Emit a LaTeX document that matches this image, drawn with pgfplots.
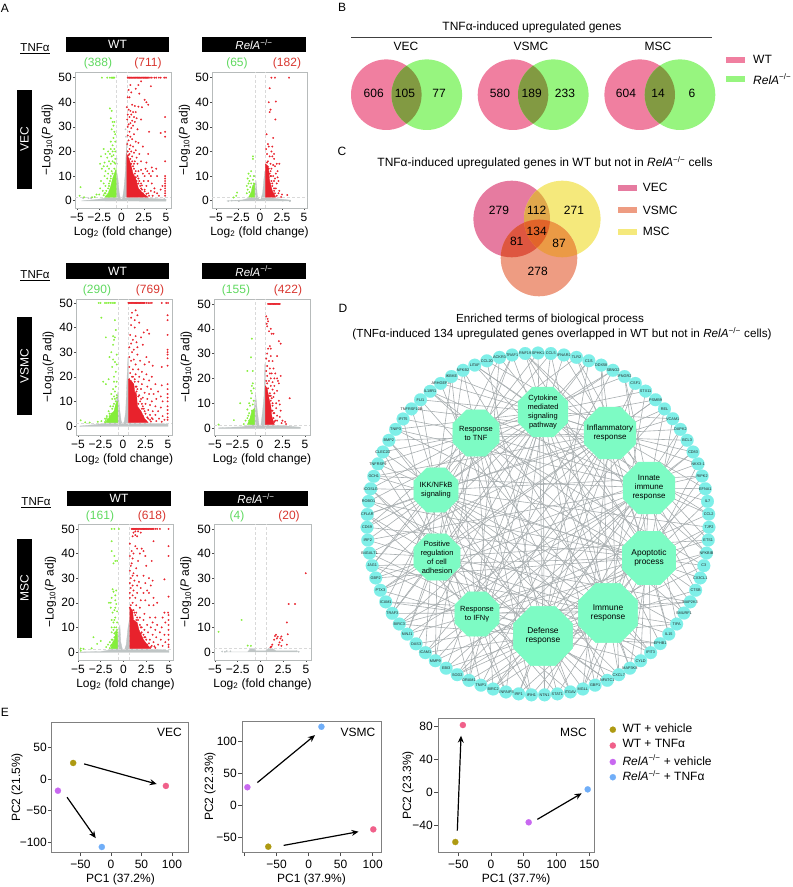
\documentclass[border=0pt]{standalone}
\usepackage{fontspec}
\setmainfont{Liberation Sans}
\usepackage{pgfplots}
\usepackage{pgfplotstable}
\pgfplotsset{compat=1.18}
\usetikzlibrary{arrows.meta}

\newcommand\fs[1]{\fontsize{#1}{#1}\selectfont}
\newcommand\rela{\textit{RelA}\textsuperscript{−/−}}

\definecolor{volred}{HTML}{E8222C}
\definecolor{volgreen}{HTML}{84EE3A}
\definecolor{volgrey}{HTML}{BFC5C5}
\definecolor{cntgreen}{HTML}{5FD95F}
\definecolor{cntred}{HTML}{D8362F}
\definecolor{vpink}{HTML}{F07FA0}
\definecolor{vgreen}{HTML}{97F57F}
\definecolor{volive}{HTML}{829A42}
\definecolor{cpink}{HTML}{E67BA0}
\definecolor{cyellow}{HTML}{F5E97C}
\definecolor{csalmon}{HTML}{EE9C82}
\definecolor{cpy}{HTML}{E0A84C}
\definecolor{cps}{HTML}{DE5640}
\definecolor{cys}{HTML}{EB9A45}
\definecolor{cmid}{HTML}{E2642A}
\definecolor{ringc}{HTML}{7EEFE8}
\definecolor{hubc}{HTML}{7DFBC4}
\definecolor{edgec}{HTML}{A8AEB0}
\definecolor{polive}{HTML}{AE9A12}
\definecolor{ppink}{HTML}{F0608A}
\definecolor{ppurple}{HTML}{C868F0}
\definecolor{pblue}{HTML}{70AEF8}

\pgfdeclareplotmark{octa}{%
  \pgfpathmoveto{\pgfpointpolar{22.5}{\pgfplotmarksize}}%
  \pgfpathlineto{\pgfpointpolar{67.5}{\pgfplotmarksize}}%
  \pgfpathlineto{\pgfpointpolar{112.5}{\pgfplotmarksize}}%
  \pgfpathlineto{\pgfpointpolar{157.5}{\pgfplotmarksize}}%
  \pgfpathlineto{\pgfpointpolar{202.5}{\pgfplotmarksize}}%
  \pgfpathlineto{\pgfpointpolar{247.5}{\pgfplotmarksize}}%
  \pgfpathlineto{\pgfpointpolar{292.5}{\pgfplotmarksize}}%
  \pgfpathlineto{\pgfpointpolar{337.5}{\pgfplotmarksize}}%
  \pgfpathclose\pgfusepathqfillstroke}

\pgfplotsset{
  volc/.style={scale only axis, height=136pt, clip=false,
    axis line style={color=volgrey!80!black!70, line width=0.9pt},
    xtick={-5,-2.5,0,2.5,5}, xticklabels={−5,−2.5,0,2.5,5},
    ytick={0,10,20,30,40,50},
    tick align=outside, major tick length=2pt, xtick pos=lower, ytick pos=left,
    tick style={color=black!70, line width=0.5pt},
    /pgf/number format/assume math mode=true,
    tick label style={font=\fs{12}, inner sep=1pt},
    xticklabel style={yshift=-2pt},
    xlabel={Log\textsubscript{2} (fold change)},
    ylabel={−Log\textsubscript{10}(\textit{P} adj)},
    every axis x label/.style={at={(axis description cs:0.5,0)},anchor=center,yshift=-24pt,font=\fs{12}},
    every axis y label/.style={at={(axis description cs:-0.29,0.5)},anchor=center,rotate=90,font=\fs{12}},
  },
  pca/.style={scale only axis, clip=false,
    axis line style={color=black!50, line width=1pt},
    tick align=outside, major tick length=4pt, xtick pos=lower, ytick pos=left,
    tick style={color=black!70, line width=0.6pt},
    /pgf/number format/assume math mode=true,
    tick label style={font=\fs{12}, inner sep=1pt},
    xticklabel style={yshift=-3pt},
    every axis x label/.style={at={(axis description cs:0.5,0)},anchor=center,yshift=-27pt,font=\fs{12}},
    every axis y label/.style={anchor=center,rotate=90,font=\fs{12}},
  },
  dots/.style 2 args={only marks, mark=*, mark size=#2pt, mark options={fill=#1, draw=#1, line width=0.15pt}},
  redpt/.style={dots={volred}{0.85}},
  grnpt/.style={dots={volgreen}{0.85}},
  grypt/.style={dots={volgrey}{0.75}},
  guide/.style={color=black!15, line width=0.35pt, densely dashed},
  area/.style={fill=#1, draw=#1, line width=0.3pt},
  pdot/.style={dots={#1}{3.1}},
  arr/.style={black, line width=1.2pt, -{Stealth[length=7pt,width=6pt]}},
  edge/.style={edgec, line width=0.6pt, data cs=polar},
}

\newcommand\spokes[3]{\pgfplotsinvokeforeach{#3}{\addplot[edge] coordinates {(#1,#2)(##1,171)};}}
% hub: x, y, mark size, font size, label
\newcommand\hub[5]{\addplot[only marks, mark=octa, mark size=#3pt, mark options={fill=hubc, draw=hubc},
  nodes near coords={#5},
  every node near coord/.style={anchor=center, align=center, inner sep=0pt, text=black, font=\fontsize{#4}{9}\selectfont}]
  coordinates {(#1,#2)};}

\pgfplotstableread{
a r g
90.0 171 SPHK1
85.7 171 CCL5
81.3 171 IFNAR2
77.0 171 TLR2
72.7 171 C1S
68.3 171 DDX58
64.0 171 SBNO2
59.6 171 IFNGR2
55.3 171 CSF1
51.0 171 STX11
46.6 171 PSMB9
42.3 171 REL
38.0 171 VCAM1
33.6 171 DAPK2
29.3 171 BCL3
24.9 171 CD83
20.6 171 NKX3-1
16.3 171 RIPK2
11.9 171 EFNA1
7.6 171 IL7
3.3 171 CCL2
-1.1 171 TJP2
-5.4 171 ETS1
-9.8 171 NFKBIB
-14.1 171 C3
-18.4 171 CX3CL1
-22.8 171 CTSB
-27.1 171 MAP2K3
-31.4 171 SMURF1
-35.8 171 TIFA
-40.1 171 IL15
-44.4 171 EPHB1
-48.8 171 IFIT3
-53.1 171 CYLD
-57.5 171 MAP3K8
-61.8 171 CXCL7
-66.1 171 NFATC1
-70.5 171 GBP1
-74.8 171 MGLL
-79.1 171 ITGAV
-83.5 171 STAT1
-87.8 171 NTN1
-92.2 171 IFIH1
-96.5 171 IRF1
-100.8 171 TNFAIP3
-105.2 171 BIRC2
-109.5 171 TNIP1
-113.8 171 DRAM1
-118.2 171 SOD2
-122.5 171 EBI3
-126.9 171 MMP9
-131.2 171 ICAM1
-135.5 171 OAS3
-139.9 171 NINJ1
-144.2 171 BIRC3
-148.5 171 TRAF3
-152.9 171 ICAM1
-157.2 171 PTX3
-161.6 171 GBP2
-165.9 171 JAG1
-170.2 171 B4GALT1
-174.6 171 IRF2
-178.9 171 CD69
176.8 171 CFLAR
172.4 171 ROBO1
168.1 171 ICOSLG
163.8 171 GCH1
159.4 171 TNFRSF9
155.1 171 CLEC2D
150.7 171 BMP2
146.4 171 TNIP3
142.1 171 IFIT5
137.7 171 TNFRSF10B
133.4 171 FLI1
129.1 171 IL18R1
124.7 171 ARHGEF3
120.4 171 IKBKE
116.0 171 NFKB2
111.7 171 LITAF
107.4 171 CCL20
103.0 171 ACKR3
98.7 171 TRAF1
94.3 171 RNF19
}\genes

\begin{document}
\begin{tikzpicture}
\path[use as bounding box] (0,0) rectangle (793pt,887pt);

% page furniture: panel letters, bars, venn diagrams (pixel coordinates, y down)
\begin{scope}[x=1pt,y=-1pt,shift={(0pt,887pt)}]
\foreach \t/\x/\y in {A/5/8, B/342/7, C/342/151, D/343/308, E/5/712}
  \node[font=\fs{12}] at (\x,\y) {\t};
\foreach \l/\a/\b/\c/\d in {WT/66/169/37/52, WT/66/169/263/279, WT/67/171/491/506}
  {\fill[black] (\a,\c) rectangle (\b,\d);
   \node[white,font=\fs{12}] at ({(\a+\b)/2},{(\c+\d)/2}) {\l};}
\foreach \a/\b/\c/\d in {202/306/37/52, 202/306/263/279, 204/308/491/506}
  {\fill[black] (\a,\c) rectangle (\b,\d);
   \node[white,font=\fs{11.5}] at ({(\a+\b)/2},{(\c+\d)/2}) {\rela};}
\foreach \l/\c/\d in {VEC/90/189, VSMC/317/415, MSC/539/638}
  {\fill[black] (17,\c) rectangle (32,\d);
   \node[white,font=\fs{12},rotate=90] at (24.5,{(\c+\d)/2}) {\l};}
\node[font=\fs{11.5}] at (35,49) {\underline{TNFα}};
\node[font=\fs{11.5}] at (35,276) {\underline{TNFα}};
\node[font=\fs{11.5}] at (36,503) {\underline{TNFα}};
\foreach \t/\x/\y in {(388)/98/63, (65)/237/63, (290)/97/290, (155)/236/290, (161)/100/516, (4)/237/516}
  \node[cntgreen,font=\fs{12}] at (\x,\y) {\t};
\foreach \t/\x/\y in {(711)/148/63, (182)/287/63, (769)/150/290, (422)/288/290, (618)/152/516, (20)/289/516}
  \node[cntred,font=\fs{12}] at (\x,\y) {\t};

% panel B
\node[font=\fs{12}] at (532,27) {TNFα-induced upregulated genes};
\draw[black!75,line width=0.7pt] (351,37) -- (712,37);
\node[font=\fs{12}] at (406,46.5) {VEC};
\node[font=\fs{12}] at (531,46.5) {VSMC};
\node[font=\fs{12}] at (658,46.5) {MSC};
\foreach \p/\q in {386.3/426.8, 513/553.3, 639.7/680}
  {\fill[vpink] (\p,94.7) circle[radius=35.3];
   \fill[vgreen] (\q,94.7) circle[radius=35.3];
   \begin{scope}\clip (\p,94.7) circle[radius=35.3];
   \fill[volive] (\q,94.7) circle[radius=35.3];\end{scope}}
\foreach \t/\x in {606/373.7, 105/405, 77/439, 580/500, 189/531.7, 233/565, 604/626, 14/658, 6/692}
  \node[font=\fs{12}] at (\x,93) {\t};
\fill[vpink] (725.7,57) rectangle (745.3,63);
\fill[vgreen] (725.7,76) rectangle (745.3,82);
\node[anchor=west,inner sep=0pt,font=\fs{12}] at (753,59) {WT};
\node[anchor=west,inner sep=0pt,font=\fs{12}] at (753,79) {\rela};

% panel C
\node[font=\fs{12}] at (545,163) {TNFα-induced upregulated genes in WT but not in \rela{} cells};
\fill[cpink] (511.7,219) circle[radius=38.3];
\fill[cyellow] (562.3,219) circle[radius=38.3];
\begin{scope}\clip (511.7,219) circle[radius=38.3];
  \fill[cpy] (562.3,219) circle[radius=38.3];\end{scope}
\fill[csalmon] (539,258) circle[radius=38.3];
\begin{scope}\clip (539,258) circle[radius=38.3];
  \fill[cps] (511.7,219) circle[radius=38.3];
  \fill[cys] (562.3,219) circle[radius=38.3];
  \clip (511.7,219) circle[radius=38.3];
  \fill[cmid] (562.3,219) circle[radius=38.3];\end{scope}
\foreach \t/\x/\y in {279/499/210.7, 112/536.7/210.7, 271/574/210.7, 134/536.7/231.7, 81/516.7/241, 87/559/243, 278/537.7/271}
  \node[font=\fs{12}] at (\x,\y) {\t};
\fill[cpink] (618,185) rectangle (637,191);
\fill[csalmon] (618,207) rectangle (637,213);
\fill[cyellow] (618,229) rectangle (637,235);
\foreach \t/\y in {VEC/187, VSMC/210, MSC/231}
  \node[anchor=west,inner sep=0pt,font=\fs{12}] at (642.7,\y) {\t};

% panel D titles
\node[font=\fs{11.7}] at (550,319) {Enriched terms of biological process};
\node[font=\fs{11.7}] at (562,334) {(TNFα-induced 134 upregulated genes overlapped in WT but not in \rela{} cells)};

% panel E legend text
\foreach \t/\y in {WT + vehicle/728, WT + TNFα/743.5, \rela{} + vehicle/760, \rela{} + TNFα/775.5}
  \node[anchor=west,inner sep=0pt,font=\fs{12}] at (622.3,\y) {\t};
\end{scope}

% panel A: VEC
\begin{axis}[volc, at={(75pt,679pt)}, anchor=south west, width=96pt, xmin=-5.22, xmax=5.56, ymin=-2.97, ymax=52.3]
\addplot[area=volgrey] coordinates {(-4.5,-.1)(-3,.4)(-2,.9)(-1,2)(-.7,7)(-.55,12)(-.4,9)(-.25,3)(-.1,.7)(.1,.7)(.25,4)(.4,10)(.5,18)(.6,24)(.6,1.4)(3,1)(5,.6)(5,-.2)} --cycle;
\addplot[guide] coordinates {(-.585,-2.97)(-.585,52.3)};
\addplot[guide] coordinates {(.585,-2.97)(.585,52.3)};
\addplot[guide] coordinates {(-5.22,1.3)(5.56,1.3)};
\addplot[area=volgreen] coordinates {(-.6,1.4)(-.6,13)(-.8,11)(-1,9)(-1.2,6)(-1.5,3)(-1.9,1.4)} --cycle;
\addplot[area=volred] coordinates {(.6,1.4)(.6,19)(.85,17)(1.1,14)(1.3,11)(1.6,9)(1.9,5)(2.4,3)(3,1.4)} --cycle;
\addplot[grypt] coordinates {(-4.3,1)(-3.7,1)(-3.4,.9)(-.5,15)(.5,26)(.45,29)(-.55,17)(4.8,.7)};
\addplot[grnpt] coordinates {(-2.2,50)(-1.6,50)(-1.3,50)(-1.1,50)(-1,50)(-.9,50)(-.8,50)(-1.3,37.5)(-1.1,36.5)(-1.2,33.5)(-1,32)(-.8,32)(-.9,30.5)(-1.1,29)(-.8,28)(-.7,27)(-.9,25.5)(-1.2,24)(-.7,24)(-1,22.5)(-2,21)(-1.2,21)(-.8,21)(-1.5,20)(-1,20)(-.7,20)(-1.8,19)(-1.3,19)(-.9,18.5)(-2.3,18)(-1.1,18)(-1.6,17.5)(-.7,17)(-1.4,16)(-1.9,15.5)(-1,16)(-.8,15.5)(-2.4,15)(-1.2,15)(-1.6,14)(-2,14)(-2.2,13)(-1.4,13)(-1.8,12)(-1.1,12)(-1.5,11)(-1.9,10)(-1.2,10)(-1.6,9)(-2.3,8)(-2,7)(-1.4,7)(-1.8,6)(-2.4,5)(-2.1,4)(-4.6,5.5)(-2.5,2.5)(-3,1.5)(-2.8,2.5)(-1.9,3)(-4.7,2)(-3.3,1.4)(-4.2,1.4)(-1.2,9)(-1.4,6)(-1.7,4)(-1,11)(-.8,13)(-1.5,5)(-2,2.2)(-1.8,3)(-.7,15)(-1.3,8)};
\addplot[redpt] coordinates {(.7,50)(.8,50)(.9,50)(1,50)(1.1,50)(1.2,50)(1.3,50)(1.4,50)(1.5,50)(1.6,50)(1.7,50)(1.8,50)(1.9,50)(2,50)(2.1,50)(2.2,50)(2.3,50)(2.4,50)(2.5,50)(2.6,50)(2.7,50)(2.8,50)(2.9,50)(3,50)(3.2,50)(3.4,50)(3.7,50)(3.9,50)(4.2,50)(4.4,50)(4.8,50)(5,50)(2.2,48.5)(1.9,47)(1,47)(3.3,46.5)(1.6,45.5)(.8,45)(1.1,44)(2,43.5)(.9,42)(.7,42)(2.6,41)(2.8,40)(3,39)(1.2,39)(1.5,38.5)(.6,38)(1.9,38.2)(2.3,38)(.8,37)(1,36.5)(1.3,36)(1.6,36)(1.1,35)(.7,35)(.9,34)(1.4,34)(4.9,34)(1.7,33.5)(2.2,33)(.65,33)(1.2,32.5)(1.5,32)(1,31.5)(.8,31)(1.3,30.5)(.7,30)(1.1,29.5)(1.8,29)(3.1,28)(4.9,28)(4.4,27.5)(.9,28)(1.4,27)(.7,26.5)(4.9,26)(1,26)(1.2,25)(.8,24.5)(1.6,24)(1.9,23.5)(.65,23)(1,22.5)(2.4,22)(1.3,22)(.9,21)(1.6,20.5)(.7,20)(1.1,20)(1.4,19.5)(2,19)(3,19)(.8,18.5)(1.2,18)(1.7,17.5)(1,17)(.7,17)(4.9,16)(1.5,16)(2.2,16)(2.8,15.5)(1,15)(1.8,15)(3.4,13.5)(2.7,13)(3.9,13)(2.2,12.5)(1.9,12)(2.9,12)(3.5,12)(2.4,11)(3.1,11)(4.9,10)(4.9,9)(2.6,10)(3.3,10)(4,10)(4.9,8)(4.9,7)(4.9,6)(4.9,5)(4.9,4)(4.9,3)(4.9,2)(4.6,6)(2.5,8)(3,8)(2.2,7)(3.4,7)(2.8,6)(3.7,5)(4.4,4.5)(3.3,4)(3.7,3.5)(4,3)(4.2,2)(3,3)(3.5,2)(2.6,3.8)(2.3,4.5)(1.6,12)(1.4,13)(1.9,9)(1.7,8)(2.1,6)(1.9,7)(1.5,11)(1.3,14)(1.2,16)(2.2,5)(2.6,4.5)(2.4,3)(2,8)(1.8,10)(1.6,9.5)(1.1,15)(.9,19)(2.8,2.8)(3.1,2)(2.7,1.8)(1.5,8)(2,4)(1.7,7)(2.3,6.2)(1.4,15)};
\end{axis}

\begin{axis}[volc, at={(212pt,679pt)}, anchor=south west, width=95pt, xmin=-5.45, xmax=5.34, ymin=-2.97, ymax=52.3]
\addplot[area=volgrey] coordinates {(-3.8,-.1)(-2,.3)(-1.4,.9)(-1,1.2)(-.8,3)(-.6,7)(-.45,8)(-.3,2)(-.1,.6)(.1,.6)(.3,3)(.45,9)(.55,12)(.6,12)(.6,1.4)(2,.8)(3.5,.2)(3.5,-.1)} --cycle;
\addplot[guide] coordinates {(-.585,-2.97)(-.585,52.3)};
\addplot[guide] coordinates {(.585,-2.97)(.585,52.3)};
\addplot[guide] coordinates {(-5.45,1.3)(5.34,1.3)};
\addplot[area=volgreen] coordinates {(-.6,1.4)(-.6,7)(-.85,6)(-1,3.5)(-1.3,1.4)} --cycle;
\addplot[area=volred] coordinates {(.6,1.4)(.6,15)(.95,14)(1.1,8)(1.4,4)(1.8,1.4)} --cycle;
\addplot[grypt] coordinates {(-3.6,-.2)(-3.2,0)(-2.4,-.2)(2.6,0)(2.1,.2)(3.4,-.2)(-.6,10)};
\addplot[grnpt] coordinates {(-.8,18)(-.8,17)(-1,12)(-1.3,11)(-1.1,10)(-.7,10)(-1.4,9)(-.8,8.5)(-1.2,8)(-1.3,7)(-1,7)(-.7,7)(-1.5,6)(-1.1,5.5)(-.8,5)(-1.4,4.5)(-1.2,3.5)(-1.5,3)(-2.6,3.3)(-2.7,2)(-3,1.3)(-.9,3)(-1,2.5)};
\addplot[redpt] coordinates {(1.3,50)(1.7,50)(3.3,50)(1.1,45.7)(1.8,40.3)(1,40)(1.2,37)(1.1,36)(1.75,33)(.75,27)(1.5,25.5)(.9,23)(1,22)(1.4,22)(.7,21)(1.3,20)(1.6,19)(.8,19)(1.4,18)(1.1,18)(1.6,17)(.8,15.5)(1.2,15)(1.9,15)(1.5,14.5)(1.7,14)(2.2,15)(1,13)(1.3,13)(2,12)(1.8,11)(1.5,10)(1.2,10)(2,9.5)(1.7,9)(1.6,8)(2.1,8)(1.9,7)(1.4,7)(1.1,7)(1.8,5)(2.2,4)(1.6,4)(1.3,4)(2.1,3)(2.5,2.5)(3.1,2.3)(2.4,1.5)(1.5,2)(1.25,10)(1.4,6)(1.6,5)(1.2,12)(1.1,11)(.9,16)(1.7,3)(1.9,2)(1.3,8)};
\end{axis}

% panel A: VSMC
\begin{axis}[volc, at={(76pt,452pt)}, anchor=south west, width=96pt, xmin=-5.22, xmax=5.44, ymin=-3.66, ymax=51.6]
\addplot[area=volgrey] coordinates {(-4.8,0)(-3,.6)(-1.8,1.2)(-1,3)(-.6,13)(-.55,14)(-.35,6)(-.2,2)(0,.6)(.15,2)(.3,6)(.45,20)(.55,28)(.6,28)(.6,1.4)(5,.8)(5,-.2)(-4.8,-.2)} --cycle;
\addplot[guide] coordinates {(-.585,-3.66)(-.585,51.6)};
\addplot[guide] coordinates {(.585,-3.66)(.585,51.6)};
\addplot[guide] coordinates {(-5.22,1.3)(5.44,1.3)};
\addplot[area=volgreen] coordinates {(-.6,1.4)(-.6,10)(-.8,9)(-1,6)(-1.3,5)(-1.7,2.5)(-2,1.4)} --cycle;
\addplot[area=volred] coordinates {(.6,1.4)(.6,19)(.9,18.5)(1.2,17)(1.3,14)(1.5,13)(1.6,8)(2,6)(2.4,3)(2.8,1.4)} --cycle;
\addplot[grnpt] coordinates {(-2.7,50)(-2.5,50)(-2,50)(-1.8,50)(-1.6,50)(-1.4,50)(-1.2,50)(-1,50)(-.9,50)(-2.4,44)(-.9,43)(-.8,39)(-1.9,36)(-1.1,36.5)(-.9,36)(-1,35)(-1.1,33)(-1.3,30)(-.7,29)(-1.5,28)(-1.1,27)(-.9,26)(-.7,25)(-1.2,24)(-.8,22)(-1,20)(-1.6,19)(-2.2,18)(-1.9,17)(-1,18)(-.7,18)(-.8,16)(-1.1,15)(-.9,14)(-1.3,13)(-.7,12.5)(-1,12)(-1.2,11)(-.8,10)(-1,9)(-1.4,8)(-1.2,7)(-1.6,6)(-1.3,5)(-1.8,4)(-1.5,4)(-2,3)(-1.7,2.5)(-2.4,2)(-2.8,1.7)(-2,1.6)(-4.7,2.3)(-4.2,1.5)(-3.7,1.4)(-1.1,8)(-1.5,5)(-1.9,2.4)(-.9,11)(-.7,11.5)(-1.8,3.2)};
\addplot[redpt] coordinates {(.6,50)(.7,50)(.8,50)(.9,50)(1,50)(1.1,50)(1.2,50)(1.3,50)(1.4,50)(1.5,50)(1.6,50)(1.7,50)(1.8,50)(1.9,50)(2,50)(2.1,50)(2.2,50)(2.3,50)(2.4,50)(2.6,50)(2.8,50)(3,50)(3.2,50)(4.3,50)(4.8,50)(5,50)(4.95,45)(4.95,43)(4.95,37)(4.95,31)(4.95,30)(4.95,29)(4.95,27.5)(4.95,24.5)(4.95,17)(4.95,15)(4.95,13)(4.95,11.5)(4.95,10)(4.95,8)(4.95,6.5)(4.95,5)(4.95,3.5)(4.95,2.5)(1.4,47)(1,46)(1.6,45)(.9,44)(1.3,43)(1.8,42)(.9,41)(1.3,40)(2.7,39)(2.3,38)(2.9,37.5)(.8,37)(1.4,36.5)(2,36)(1.1,35)(1.5,34)(.9,33.5)(2.2,33)(1.6,32)(.7,32)(1.2,31)(1,30)(1.6,29)(2.6,28)(.7,28)(1.2,27)(.9,26.5)(1.9,26.5)(2.9,26)(2.4,25)(1.4,25)(3.3,24.5)(4.3,24)(.7,24)(1.1,23)(1.7,23)(2.1,22)(.8,21.5)(1.4,21)(2.6,21)(1,20)(1.8,20)(3.2,20)(.7,19)(1.3,19)(2.3,19)(2.9,18.5)(1.7,18)(2.1,17)(1,17)(3.6,17)(4.3,16.5)(2.7,16)(1.5,16)(3.1,15)(2,15)(3.9,14)(2.4,13.5)(2.9,13)(3.4,13)(1.8,12.5)(4.2,12)(2.2,11.5)(2.7,11)(3.7,11)(3.2,10)(4.4,10)(2.1,9)(2.5,9)(3,8.5)(3.6,8)(4.2,7.5)(2.3,7)(2.8,6.5)(3.3,6)(3.9,6)(1.9,6)(2.5,5)(3,4.5)(3.6,4.5)(4.4,4)(2.2,4)(2.8,3)(3.3,2.8)(4,3)(4.6,2.5)(2.5,2)(3.1,1.8)(3.7,2)(4.3,1.7)(1.7,12)(1.5,14)(1.4,16)(2.1,7)(2.4,6)(1.9,10)(2.7,3.5)(3,2.5)(1.1,20)(1.3,18)(2.2,8)(1.7,9)(3.2,3.2)(2,11)(1.6,15)};
\end{axis}

\begin{axis}[volc, at={(214pt,452pt)}, anchor=south west, width=96pt, xmin=-5.11, xmax=5.56, ymin=-2.8, ymax=52]
\addplot[area=volgrey] coordinates {(-4.6,.1)(-2,.5)(-1.2,1)(-.8,2)(-.6,9)(-.5,14)(-.3,7)(-.1,1)(.1,1)(.3,7)(.45,13)(.55,26)(.6,26)(.6,1.4)(2.5,1)(4.5,.3)(4.5,-.2)(-4.6,-.2)} --cycle;
\addplot[guide] coordinates {(-.585,-2.8)(-.585,52)};
\addplot[guide] coordinates {(.585,-2.8)(.585,52)};
\addplot[guide] coordinates {(-5.11,1.3)(5.56,1.3)};
\addplot[area=volgreen] coordinates {(-.6,1.4)(-.6,8)(-.9,7)(-1.1,4)(-1.4,1.4)} --cycle;
\addplot[area=volred] coordinates {(.6,1.4)(.6,17)(.8,16)(1,12)(1.2,9)(1.3,5)(1.6,1.4)} --cycle;
\addplot[grnpt] coordinates {(-.9,36)(-1,28.5)(-.8,23)(-1.4,23)(-.8,18)(-.9,17)(-.7,16)(-1,15)(-.9,14)(-2.2,10)(-1,12)(-.7,11)(-1.2,10)(-.8,9.5)(-1.1,9)(-1.4,7.5)(-.9,7)(-1.2,6)(-1.3,5)(-.7,5)(-1,4.5)(-1.4,4)(-1.6,3)(-1.2,3)(-2.9,3.2)(-1.8,1.6)(-4.6,1.4)};
\addplot[redpt] coordinates {(.9,50)(1,50)(1.1,50)(1.2,50)(1.3,50)(1.4,50)(1.5,50)(1.6,50)(1.7,50)(1.8,50)(1.9,50)(2,50)(2.1,50)(2.2,50)(.7,45)(.85,44)(.9,43)(.75,42)(.8,41)(1,39)(1.2,40)(1.3,38)(1.5,38)(2.1,35)(2.3,34)(1.1,33)(.9,32)(1.2,32)(.8,30)(1.2,29)(1.9,29)(.7,28)(1,27)(1.4,27)(.8,25)(1.1,24)(1.5,24)(.7,23)(1.1,22)(1.3,22)(1.7,22)(2.3,21)(.8,21)(1.2,20)(1.6,20)(1.9,20)(.7,19)(1,19)(1.4,18.5)(2,19)(2.1,18)(1.2,17)(1.6,17)(.9,16)(1.4,15.5)(1.9,15)(1.1,14)(1.6,14)(1,13)(1.5,12.5)(3.3,12)(2.1,11)(1.2,11)(1.8,10)(2.2,9.5)(1.4,9)(2.3,7)(1.8,8)(1.4,7)(1.6,6)(1.9,5)(2.2,4.5)(1.2,5)(1.5,4)(2.5,3)(2.8,2.5)(2.4,2)(1.9,3)(2.9,1.6)(1.3,12)(1.1,13)(1.4,10)(1.5,6)(1.7,3)(.8,18)(1.3,7)(1.6,2.5)(1.2,13)};
\end{axis}

% panel A: MSC
\begin{axis}[volc, at={(78pt,227pt)}, anchor=south west, width=95pt, xmin=-5, xmax=5.44, ymin=-3.25, ymax=52]
\addplot[area=volgrey] coordinates {(-4.8,0)(-2.5,.2)(-1.5,.8)(-.8,2)(-.6,6)(-.4,11)(-.3,4)(-.1,.8)(.1,.8)(.3,3)(.5,10)(.7,14)(.7,1.4)(4,1)(5,.6)(5,-.2)(-4.8,-.2)} --cycle;
\addplot[guide] coordinates {(-.585,-3.25)(-.585,52)};
\addplot[guide] coordinates {(.585,-3.25)(.585,52)};
\addplot[guide] coordinates {(-5,1.3)(5.44,1.3)};
\addplot[area=volgreen] coordinates {(-.65,1.4)(-.65,7)(-.8,9)(-1,5)(-1.2,4)(-1.4,1.4)} --cycle;
\addplot[area=volred] coordinates {(.7,1.4)(.7,18)(1,17)(1.1,13)(1.5,12)(1.7,9)(2.2,5)(2.6,3)(3,1.4)} --cycle;
\addplot[grnpt] coordinates {(-1.3,50)(-1,50)(-.5,50)(-1.3,45)(-1.3,41)(-1,39)(-.9,37)(-.7,37)(-1.1,36)(-1.2,25.5)(-.8,25)(-1.1,24.5)(-.9,23)(-1.3,22)(-.9,21)(-1.6,20)(-1.4,20)(-.8,19.5)(-.9,18)(-1.4,18)(-1,17)(-.7,16.5)(-1.2,16)(-.9,14)(-1.3,13)(-1,13)(-.7,12)(-1.1,12)(-1.3,10)(-1,10)(-.8,10)(-1.1,9)(-.7,9)(-1.3,8)(-1,7.5)(-.8,7)(-3.3,6)(-2.5,4.5)(-2.9,3.3)(-1.3,5)(-1.5,4)(-1.7,3)(-1.1,3)(-1.9,2)(-1.5,1.6)(-3.5,1.5)(-4.7,1.4)(-4.7,.5)(-4.4,1.3)(-1,6)(-1.3,3)(-.9,8)(-1.2,5)(-1.4,2.5)(-.7,8)};
\addplot[redpt] coordinates {(.9,50)(1,50)(1.1,50)(1.2,50)(1.3,50)(1.4,50)(1.5,50)(1.6,50)(1.7,50)(1.8,50)(1.9,50)(2,50)(2.1,50)(2.2,50)(2.3,50)(2.4,50)(2.5,50)(2.6,50)(2.7,50)(2.8,50)(2.9,50)(3,50)(3.1,50)(3.2,50)(3.3,50)(3.5,50)(3.7,50)(4,50)(4.95,50)(1.3,49)(1.6,49)(1.1,48.5)(1.9,48.5)(1.3,47.5)(1.5,47)(1,47)(3.3,45)(.7,44)(1.3,43)(1.5,42)(2,42)(2.2,41)(4.95,43)(.9,41)(1.1,40)(1.8,40)(2.4,39)(4.95,39)(.7,39)(1,38)(1.6,37)(.9,36)(3.1,37)(.8,35)(2.5,35)(1.4,34)(.7,33)(1.1,32)(1,31)(1.5,31)(2.2,31)(.8,30)(2.8,30)(3.2,29)(1.2,29)(4.5,29.5)(1.7,28.5)(.7,28)(2.4,28)(1,27)(1.5,27)(3,27)(.8,26)(1.9,26)(2.6,25)(1.1,25)(.7,24)(1.5,24)(2.2,24)(2.8,24)(1,23)(3.3,22)(4.95,22.5)(.7,22)(1.3,22)(3.7,20)(1.9,21)(2.4,21)(1,20)(2.8,19)(.8,19)(1.4,19)(3.3,19)(1.8,18)(.7,18)(1.1,17)(1.4,16)(4.5,16)(4.9,16)(2.3,15.5)(4.95,15)(2.9,14)(3.5,14)(1.8,14)(4.3,14)(4.95,13)(2.2,13)(3.2,12)(4.6,12)(2.6,11)(3.7,11)(4.95,11)(2,10)(3,10)(4.2,10)(2.3,9)(3.5,9)(4.95,9)(2.7,8)(4,8)(1.9,7.5)(3.2,7)(4.5,7)(4.95,7)(2.4,6)(3.6,6)(2.9,5)(4.1,5)(4.95,5)(2.1,4)(3.3,4)(4.6,4)(2.6,3)(3.8,3)(4.95,3)(4.3,2.5)(3,2)(3.5,1.7)(2,2)(4.95,2)(1.3,15)(1.2,16)(1.6,13)(1.8,11)(1.9,10)(2.2,7)(2.5,5)(2.8,3.5)(3.1,2.5)(1.5,14)(2,8)(2.3,6)(3.4,2.3)(1.4,13)};
\end{axis}

\begin{axis}[volc, at={(214pt,227pt)}, anchor=south west, width=97pt, xmin=-5.1, xmax=5.55, ymin=-3.25, ymax=52]
\addplot[area=volgrey] coordinates {(-4,0)(-1.4,0)(-1.1,1.4)(-.8,1.4)(-.5,.5)(.6,.5)(.9,1.5)(1.3,1.4)(1.7,.5)(4,.5)(4,0)} --cycle;
\addplot[guide] coordinates {(-.585,-3.25)(-.585,52)};
\addplot[guide] coordinates {(.585,-3.25)(.585,52)};
\addplot[guide] coordinates {(-5.1,1.7)(5.55,1.7)};
\addplot[grypt] coordinates {(-4.2,.2)(-3.9,.1)(-3.7,.4)(-3.3,.3)(4,.3)(4.2,.1)};
\addplot[grnpt] coordinates {(-4.6,8.2)(-2.07,13)(-1.4,2.6)(-1.05,2.5)};
\addplot[redpt] coordinates {(4.97,32)(3.1,19.5)(3.8,19.5)(2.9,12)(3,7.2)(1.7,7)(1.9,6.2)(2.3,6.3)(2.2,5.5)(1.8,5.5)(1.3,3)(2.4,4.8)(2.1,3.9)(1.2,2.2)(2,2.9)(2.9,3)(1.1,1.9)(2.3,2.5)(1.5,5)(1.6,6.5)};
\end{axis}

% panel D: network
\begin{axis}[at={(338pt,163pt)}, anchor=south west, scale only axis, width=400pt, height=400pt,
  xmin=-200, xmax=200, ymin=-200, ymax=200, hide axis, clip=false]
\spokes{87.4}{112}{94.3,103,111.7,120.4,133.4,146.4,159.4,172.4,-174.6,-161.6,-148.5,-122.5,-100.8,-87.8,-70.5,-57.5,-44.4,-27.1,-9.8,3.3,20.6,38,51,64,72.7,85.7,-135.5,-113.8}
\spokes{124.3}{110}{98.7,116,129.1,142.1,155.1,168.1,-178.9,-165.9,-139.9,-126.9,-105.2,-92.2,-66.1,-48.8,-31.4,-14.1,7.6,29.3,46.6,59.6,77,90,-152.9,-79.1}
\spokes{51.6}{116}{42.3,55.3,68.3,81.3,94.3,107.4,124.7,137.7,150.7,163.8,176.8,-170.2,-157.2,-144.2,-118.2,-96.5,-74.8,-61.8,-40.1,-22.8,-5.4,11.9,24.9,33.6,46.6,-131.2,-109.5}
\spokes{161.6}{107.5}{176.8,150.7,133.4,120.4,103,85.7,64,38,16.3,-1.1,-18.4,-35.8,-53.1,-74.8,-92.2,-109.5,-131.2,-148.5,-165.9,-178.9,168.1,159.4,-61.8}
\spokes{18}{116.7}{3.3,11.9,24.9,42.3,59.6,77,94.3,111.7,129.1,146.4,163.8,-174.6,-157.2,-139.9,-122.5,-105.2,-87.8,-70.5,-53.1,-35.8,-18.4,-9.8,29.3,16.3,-144.2,-118.2}
\spokes{198}{106}{-170.2,-157.2,176.8,159.4,142.1,116,98.7,72.7,46.6,20.6,-5.4,-27.1,-48.8,-66.1,-83.5,-100.8,-126.9,-148.5,-139.9,-161.6,168.1,-113.8}
\spokes{343}{116}{-1.1,-14.1,-22.8,-31.4,-40.1,-57.5,-74.8,-92.2,-109.5,-126.9,-144.2,-161.6,-178.9,163.8,146.4,129.1,111.7,94.3,77,59.6,38,20.6,7.6,-5.4,-48.8,-165.9,172.4,-118.2}
\spokes{235.9}{109}{-100.8,-113.8,-126.9,-139.9,-152.9,-165.9,176.8,155.1,137.7,120.4,103,81.3,64,42.3,24.9,3.3,-9.8,-27.1,-44.4,-61.8,-79.1,-92.2,-131.2}
\spokes{308.2}{113}{-35.8,-48.8,-61.8,-74.8,-83.5,-96.5,-109.5,-122.5,-135.5,-148.5,-165.9,-174.6,172.4,155.1,133.4,116,98.7,85.7,68.3,51,33.6,16.3,-1.1,-14.1,-27.1,-40.1,-57.5,-105.2,-152.9}
\spokes{272.6}{112}{-66.1,-79.1,-87.8,-96.5,-105.2,-118.2,-131.2,-144.2,-157.2,-170.2,168.1,150.7,124.7,107.4,90,72.7,55.3,33.6,11.9,-9.8,-22.8,-35.8,-53.1,-70.5,-113.8,-83.5,-44.4}
\addplot[dots={ringc}{6.4}, data cs=polar,
  point meta=explicit symbolic, nodes near coords,
  every node near coord/.style={anchor=center, inner sep=0pt, font=\fs{3.8}, text=black!85}]
  table[x=a, y=r, meta=g] {\genes};
\hub{5}{112}{27}{7.5}{Cytokine\\mediated\\signaling\\pathway}
\hub{-62}{91}{25}{7.5}{Response\\to TNF}
\hub{72}{91}{28}{8}{Inflammatory\\response}
\hub{-102}{34}{24}{7.5}{IKK/NFkB\\signaling}
\hub{111}{36}{28}{8}{Innate\\immune\\response}
\hub{-101}{-33}{25}{7.5}{Positive\\regulation\\of cell\\adhesion}
\hub{111}{-34}{29}{8.4}{Apoptotic\\process}
\hub{-61}{-90}{24}{7.5}{Response\\to IFNγ}
\hub{70}{-89}{32}{8.4}{Immune\\response}
\hub{5}{-112}{32}{8.4}{Defense\\response}
\end{axis}

% panel E: PCA
\begin{axis}[pca, at={(52pt,35pt)}, anchor=south west, width=137pt, height=129pt,
  xmin=-96.7, xmax=127.9, ymin=-116, ymax=89,
  xtick={-50,0,50,100}, xticklabels={−50,0,50,100},
  ytick={-100,-50,0,50}, yticklabels={−100,−50,0,50},
  xlabel={PC1 (37.2\%)}, ylabel={PC2 (21.5\%)}, ylabel style={at={(axis description cs:-0.255,0.5)}}]
\addplot[arr] coordinates {(-44,24)(75,-8)};
\addplot[arr] coordinates {(-72,-29)(-25,-94)};
\addplot[pdot=polive] coordinates {(-62,25.5)};
\addplot[pdot=ppink] coordinates {(90,-11)};
\addplot[pdot=ppurple] coordinates {(-87,-18.6)};
\addplot[pdot=pblue] coordinates {(-15,-108)};
\node[font=\fs{12}] at (96,74) {VEC};
\end{axis}

\begin{axis}[pca, at={(242pt,35pt)}, anchor=south west, width=139pt, height=131pt,
  xmin=-104, xmax=113, ymin=-72.3, ymax=132,
  xtick={-100,-50,0,50,100}, xticklabels={,−50,0,50,100},
  ytick={-50,0,50,100}, yticklabels={−50,0,50,100},
  xlabel={PC1 (37.9\%)}, ylabel={PC2 (22.3\%)}, ylabel style={at={(axis description cs:-0.23,0.5)}}]
\addplot[arr] coordinates {(-80,36)(10,110)};
\addplot[arr] coordinates {(-39,-62)(78,-40.6)};
\addplot[pdot=polive] coordinates {(-63,-64)};
\addplot[pdot=ppink] coordinates {(101,-37)};
\addplot[pdot=ppurple] coordinates {(-95.6,28.7)};
\addplot[pdot=pblue] coordinates {(20,123)};
\node[font=\fs{12}] at (77,115) {VSMC};
\end{axis}

\begin{axis}[pca, at={(438pt,35pt)}, anchor=south west, width=156.3pt, height=133pt,
  xmin=-81, xmax=157.7, ymin=-72.8, ymax=89.4,
  xtick={-50,0,50,100,150}, xticklabels={−50,0,50,100,150},
  ytick={-40,0,40,80}, yticklabels={−40,0,40,80},
  xlabel={PC1 (37.7\%)}, ylabel={PC2 (23.3\%)}, ylabel style={at={(axis description cs:-0.192,0.5)}}]
\addplot[arr] coordinates {(-51.5,-46.8)(-45.8,69)};
\addplot[arr] coordinates {(70.7,-33)(138.5,-1.2)};
\addplot[pdot=polive] coordinates {(-54.5,-60.6)};
\addplot[pdot=ppink] coordinates {(-43,82)};
\addplot[pdot=ppurple] coordinates {(57.5,-36.6)};
\addplot[pdot=pblue] coordinates {(147.6,3.6)};
\node[font=\fs{12}] at (126,73) {MSC};
% legend dots sit outside the frame, in data units of this axis
\addplot[pdot=polive] coordinates {(186,76.4)};
\addplot[pdot=ppink] coordinates {(186,57)};
\addplot[pdot=ppurple] coordinates {(186,37)};
\addplot[pdot=pblue] coordinates {(186,18.4)};
\end{axis}
\end{tikzpicture}
\end{document}
